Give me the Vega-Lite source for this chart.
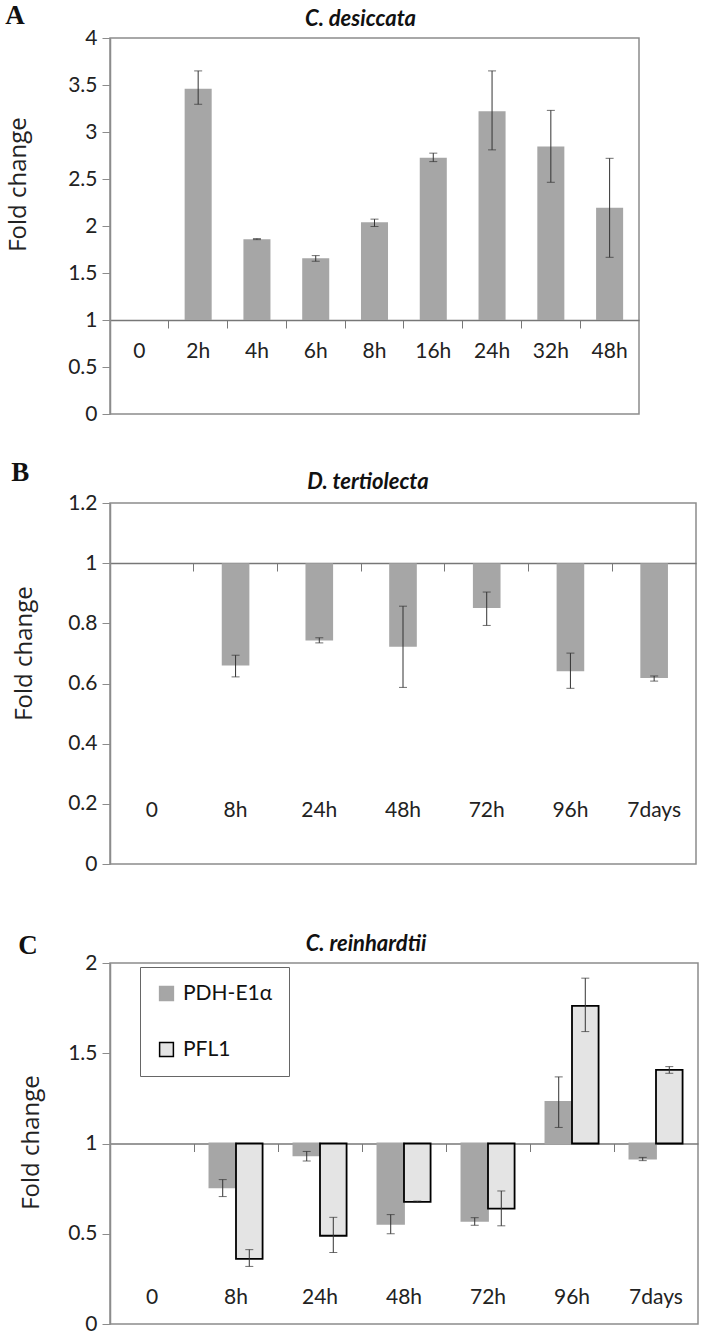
{
  "$schema": "https://vega.github.io/schema/vega-lite/v6.json",
  "padding": {"left": 5, "top": 2, "right": 0, "bottom": 0},
  "spacing": 34,
  "config": {
    "view": {"stroke": "#8c8c8c", "strokeWidth": 1.5},
    "axis": {"grid": false},
    "axisY": {
      "domainColor": "#8c8c8c", "domainWidth": 1.5, "tickColor": "#8c8c8c", "tickSize": 8,
      "labelFont": "Lato", "labelFontSize": 21, "labelColor": "#222", "labelPadding": 5,
      "titleFont": "Open Sans", "titleFontSize": 24, "titleFontWeight": "normal", "titleColor": "#222"
    },
    "title": {"font": "Lato", "fontSize": 22, "fontWeight": "bold", "fontStyle": "italic", "color": "#111"}
  },
  "vconcat": [
    {
      "title": {"text": "A", "anchor": "start", "frame": "bounds", "font": "Liberation Serif", "fontSize": 27, "fontStyle": "normal", "fontWeight": "bold", "offset": -23},
      "vconcat": [
        {
          "title": {"text": "C. desiccata", "anchor": "middle", "frame": "group", "dx": -14, "offset": -4},
          "width": 529, "height": 376,
          "data": {"values": [
            {"time": "2h", "value": 3.46, "lo": 3.295, "hi": 3.65},
            {"time": "4h", "value": 1.86, "lo": 1.855, "hi": 1.866},
            {"time": "6h", "value": 1.657, "lo": 1.625, "hi": 1.685},
            {"time": "8h", "value": 2.04, "lo": 1.995, "hi": 2.073},
            {"time": "16h", "value": 2.725, "lo": 2.685, "hi": 2.775},
            {"time": "24h", "value": 3.22, "lo": 2.81, "hi": 3.65},
            {"time": "32h", "value": 2.846, "lo": 2.465, "hi": 3.23},
            {"time": "48h", "value": 2.195, "lo": 1.667, "hi": 2.72}
          ]},
          "layer": [
            {
              "mark": {"type": "bar", "width": {"band": 0.46}, "color": "#a6a6a6"},
              "encoding": {
                "x": {"field": "time", "type": "nominal", "scale": {"domain": ["0", "2h", "4h", "6h", "8h", "16h", "24h", "32h", "48h"], "paddingInner": 0, "paddingOuter": 0},
                  "axis": {"orient": "bottom", "title": null, "domain": false, "ticks": false, "tickSize": 0, "labelAngle": 0, "labelFont": "Lato", "labelFontSize": 21, "labelColor": "#222", "labelPadding": 0, "offset": -74}},
                "y": {"field": "value", "type": "quantitative", "scale": {"domain": [0, 4]}, "axis": {"title": "Fold change", "values": [0, 0.5, 1, 1.5, 2, 2.5, 3, 3.5, 4], "format": "~g", "titleX": -80, "titleY": 146}},
                "y2": {"datum": 1}
              }
            },
            {
              "mark": {"type": "rule", "color": "#333", "strokeWidth": 1},
              "encoding": {
                "x": {"field": "time", "type": "nominal",
                  "axis": {"orient": "bottom", "title": null, "labels": false, "domainColor": "#777", "domainWidth": 1.3, "tickColor": "#777", "tickSize": 8, "bandPosition": 0, "offset": -94}},
                "y": {"field": "lo", "type": "quantitative"},
                "y2": {"field": "hi"}
              }
            },
            {
              "mark": {"type": "tick", "color": "#333", "size": 8, "thickness": 1},
              "encoding": {"x": {"field": "time", "type": "nominal", "axis": null}, "y": {"field": "lo", "type": "quantitative"}}
            },
            {
              "mark": {"type": "tick", "color": "#333", "size": 8, "thickness": 1},
              "encoding": {"x": {"field": "time", "type": "nominal", "axis": null}, "y": {"field": "hi", "type": "quantitative"}}
            }
          ],
          "resolve": {"axis": {"x": "independent"}}
        }
      ]
    },
    {
      "title": {"text": "B", "anchor": "start", "frame": "bounds", "font": "Liberation Serif", "fontSize": 27, "fontStyle": "normal", "fontWeight": "bold", "offset": -17},
      "vconcat": [
        {
          "title": {"text": "D. tertiolecta", "anchor": "middle", "frame": "group", "dx": -35, "offset": -2},
          "width": 586, "height": 361,
          "data": {"values": [
            {"time": "8h", "value": 0.66, "lo": 0.622, "hi": 0.694},
            {"time": "24h", "value": 0.743, "lo": 0.735, "hi": 0.752},
            {"time": "48h", "value": 0.722, "lo": 0.587, "hi": 0.857},
            {"time": "72h", "value": 0.851, "lo": 0.793, "hi": 0.904},
            {"time": "96h", "value": 0.641, "lo": 0.584, "hi": 0.701},
            {"time": "7days", "value": 0.618, "lo": 0.608, "hi": 0.625}
          ]},
          "layer": [
            {
              "mark": {"type": "bar", "width": {"band": 0.33}, "color": "#a6a6a6"},
              "encoding": {
                "x": {"field": "time", "type": "nominal", "scale": {"domain": ["0", "8h", "24h", "48h", "72h", "96h", "7days"], "paddingInner": 0, "paddingOuter": 0},
                  "axis": {"orient": "bottom", "title": null, "domain": false, "ticks": false, "tickSize": 0, "labelAngle": 0, "labelFont": "Lato", "labelFontSize": 21, "labelColor": "#222", "labelPadding": 0, "offset": -65}},
                "y": {"field": "value", "type": "quantitative", "scale": {"domain": [0, 1.2]}, "axis": {"title": "Fold change", "values": [0, 0.2, 0.4, 0.6, 0.8, 1, 1.2], "format": "~g", "titleX": -74, "titleY": 150}},
                "y2": {"datum": 1}
              }
            },
            {
              "mark": {"type": "rule", "color": "#333", "strokeWidth": 1},
              "encoding": {
                "x": {"field": "time", "type": "nominal",
                  "axis": {"orient": "bottom", "title": null, "labels": false, "domainColor": "#777", "domainWidth": 1.3, "tickColor": "#777", "tickSize": 8, "bandPosition": 0, "offset": -301}},
                "y": {"field": "lo", "type": "quantitative"},
                "y2": {"field": "hi"}
              }
            },
            {
              "mark": {"type": "tick", "color": "#333", "size": 8, "thickness": 1},
              "encoding": {"x": {"field": "time", "type": "nominal", "axis": null}, "y": {"field": "lo", "type": "quantitative"}}
            },
            {
              "mark": {"type": "tick", "color": "#333", "size": 8, "thickness": 1},
              "encoding": {"x": {"field": "time", "type": "nominal", "axis": null}, "y": {"field": "hi", "type": "quantitative"}}
            }
          ],
          "resolve": {"axis": {"x": "independent"}}
        }
      ]
    },
    {
      "title": {"text": ["", "C"], "lineHeight": 23, "anchor": "start", "frame": "bounds", "font": "Liberation Serif", "fontSize": 27, "fontStyle": "normal", "fontWeight": "bold", "offset": -28},
      "vconcat": [
        {
          "title": {"text": "C. reinhardtii", "anchor": "middle", "frame": "group", "dx": -38, "offset": -4},
          "width": 588, "height": 361,
          "data": {"values": [
            {"time": "8h", "gene": "PDH-E1α", "value": 0.757, "lo": 0.706, "hi": 0.8},
            {"time": "8h", "gene": "PFL1", "value": 0.361, "lo": 0.319, "hi": 0.412},
            {"time": "24h", "gene": "PDH-E1α", "value": 0.934, "lo": 0.903, "hi": 0.956},
            {"time": "24h", "gene": "PFL1", "value": 0.489, "lo": 0.396, "hi": 0.591},
            {"time": "48h", "gene": "PDH-E1α", "value": 0.555, "lo": 0.5, "hi": 0.606},
            {"time": "48h", "gene": "PFL1", "value": 0.677, "lo": 0.673, "hi": 0.681},
            {"time": "72h", "gene": "PDH-E1α", "value": 0.571, "lo": 0.547, "hi": 0.589},
            {"time": "72h", "gene": "PFL1", "value": 0.639, "lo": 0.544, "hi": 0.737},
            {"time": "96h", "gene": "PDH-E1α", "value": 1.231, "lo": 1.089, "hi": 1.369},
            {"time": "96h", "gene": "PFL1", "value": 1.763, "lo": 1.62, "hi": 1.916},
            {"time": "7days", "gene": "PDH-E1α", "value": 0.916, "lo": 0.905, "hi": 0.923},
            {"time": "7days", "gene": "PFL1", "value": 1.408, "lo": 1.389, "hi": 1.426}
          ]},
          "layer": [
            {
              "mark": {"type": "bar", "strokeWidth": 1.8},
              "encoding": {
                "x": {"field": "time", "type": "nominal", "scale": {"domain": ["0", "8h", "24h", "48h", "72h", "96h", "7days"], "paddingInner": 0, "paddingOuter": 0},
                  "axis": {"orient": "bottom", "title": null, "domain": false, "ticks": false, "tickSize": 0, "labelAngle": 0, "labelFont": "Lato", "labelFontSize": 21, "labelColor": "#222", "labelPadding": 0, "offset": -38}},
                "xOffset": {"field": "gene", "type": "nominal", "scale": {"paddingInner": 0, "paddingOuter": 0.58}},
                "y": {"field": "value", "type": "quantitative", "scale": {"domain": [0, 2]}, "axis": {"title": "Fold change", "values": [0, 0.5, 1, 1.5, 2], "format": "~g", "titleX": -67, "titleY": 179}},
                "y2": {"datum": 1},
                "fill": {"field": "gene", "type": "nominal", "scale": {"domain": ["PDH-E1α", "PFL1"], "range": ["#a6a6a6", "#e4e4e4"]},
                  "legend": {"title": null, "orient": "none", "legendX": 30, "legendY": 929, "direction": "vertical", "fillColor": "white", "strokeColor": "#666", "padding": 16, "rowPadding": 34, "symbolType": "square", "symbolSize": 190, "symbolStrokeWidth": 1.5, "labelFont": "Lato", "labelFontSize": 21, "labelColor": "#111", "labelOffset": 6}},
                "stroke": {"field": "gene", "type": "nominal", "scale": {"domain": ["PDH-E1α", "PFL1"], "range": ["#a6a6a6", "#000000"]}}
              }
            },
            {
              "mark": {"type": "rule", "color": "#333", "strokeWidth": 1},
              "encoding": {
                "x": {"field": "time", "type": "nominal",
                  "axis": {"orient": "bottom", "title": null, "labels": false, "domainColor": "#777", "domainWidth": 1.3, "tickColor": "#777", "tickSize": 8, "bandPosition": 0, "offset": -180.5}},
                "xOffset": {"field": "gene", "type": "nominal"},
                "y": {"field": "lo", "type": "quantitative"},
                "y2": {"field": "hi"}
              }
            },
            {
              "mark": {"type": "tick", "color": "#333", "size": 8, "thickness": 1},
              "encoding": {"x": {"field": "time", "type": "nominal", "axis": null}, "xOffset": {"field": "gene", "type": "nominal"}, "y": {"field": "lo", "type": "quantitative"}}
            },
            {
              "mark": {"type": "tick", "color": "#333", "size": 8, "thickness": 1},
              "encoding": {"x": {"field": "time", "type": "nominal", "axis": null}, "xOffset": {"field": "gene", "type": "nominal"}, "y": {"field": "hi", "type": "quantitative"}}
            }
          ],
          "resolve": {"axis": {"x": "independent"}}
        }
      ]
    }
  ]
}
